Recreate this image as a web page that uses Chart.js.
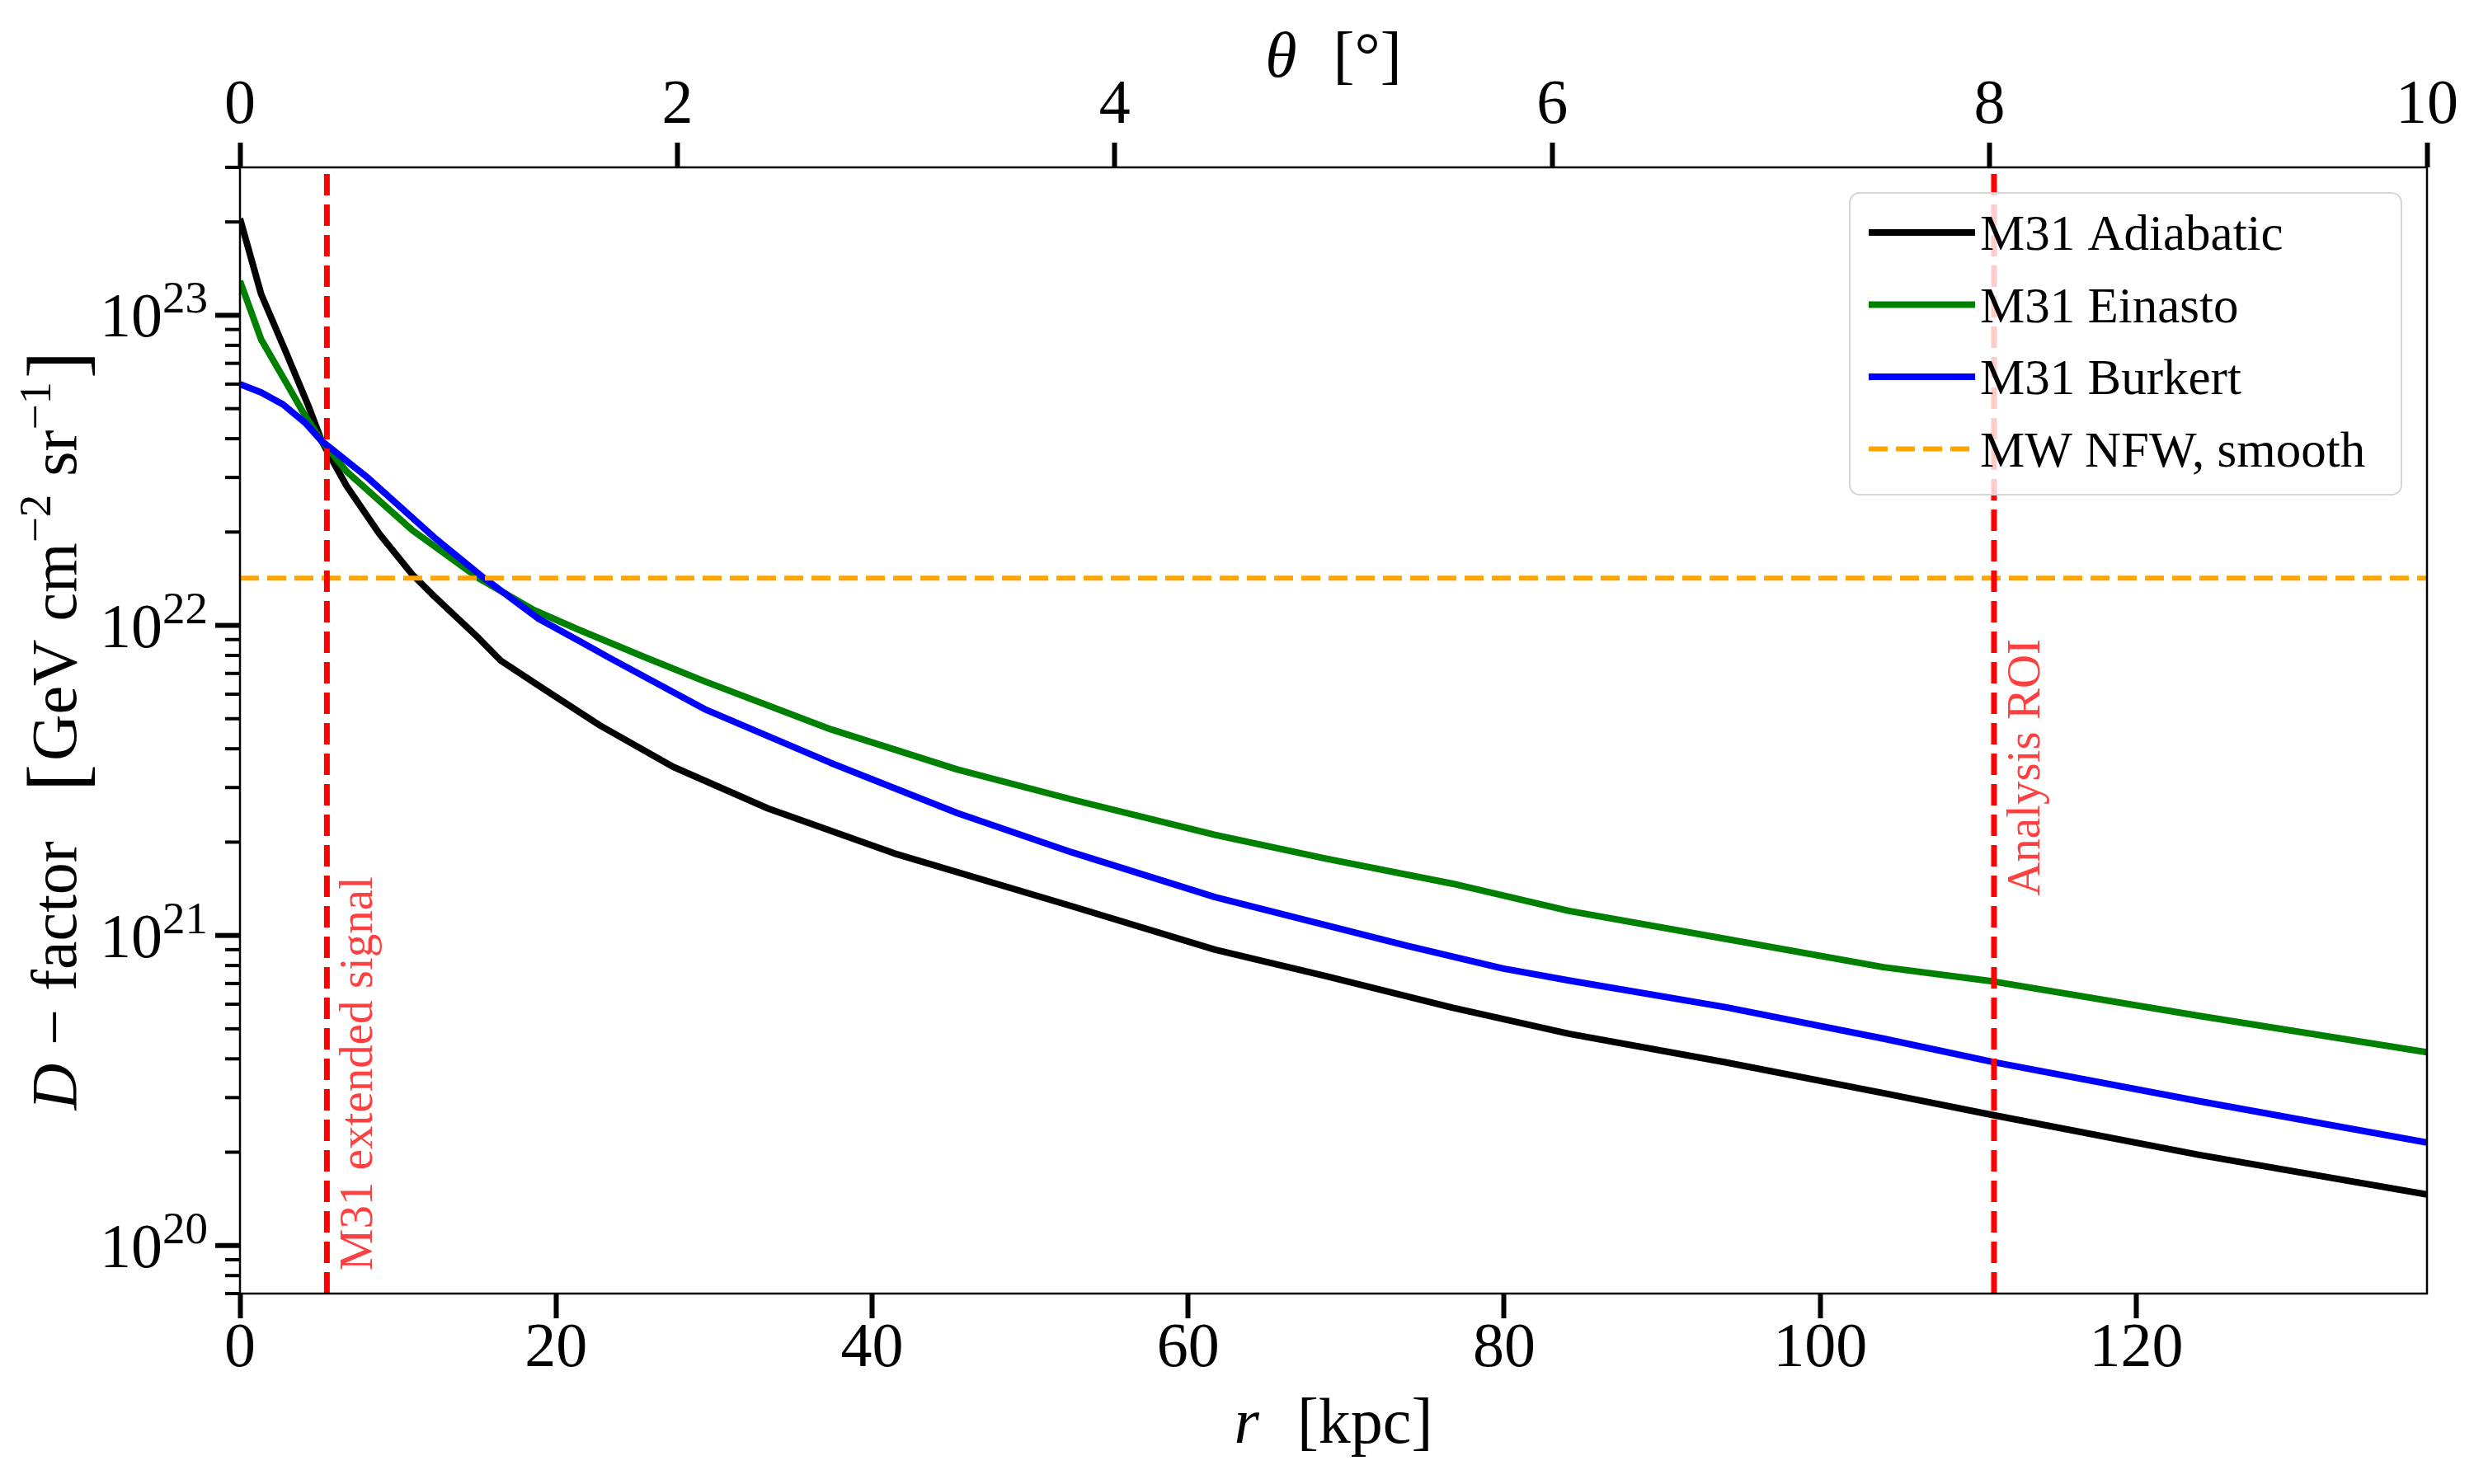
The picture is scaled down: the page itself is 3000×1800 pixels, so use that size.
<!DOCTYPE html>
<html>
<head>
<meta charset="utf-8">
<script src="https://cdn.jsdelivr.net/npm/chart.js@4.4.1/dist/chart.umd.min.js"></script>
<style>
html,body{margin:0;padding:0;background:#ffffff;}
canvas{display:block;}
</style>
</head>
<body>
<canvas id="c" width="3000" height="1800" style="width:3000px;height:1800px"></canvas>
<script>
// ---------------- data ----------------
const seriesLabels = ['M31 Adiabatic', 'M31 Einasto', 'M31 Burkert', 'MW NFW, smooth'];

const rAdiabatic = [0, 1.34, 2.91, 4.29, 5.17, 6.74, 8.83, 10.9, 12.3, 15.1, 16.5, 19.3, 22.8, 27.4, 33.4, 41.4, 52.7, 61.7, 68.7, 76.7, 84.1, 94.0, 104.0, 111.0, 124.0, 138.4];
const dAdiabatic = [2.05e23, 1.17e23, 7.6e22, 5.16e22, 3.93e22, 2.82e22, 1.97e22, 1.46e22, 1.24e22, 9.1e21, 7.7e21, 6.2e21, 4.75e21, 3.5e21, 2.57e21, 1.84e21, 1.24e21, 9.0e20, 7.4e20, 5.85e20, 4.82e20, 3.9e20, 3.1e20, 2.63e20, 1.96e20, 1.46e20];

const rEinasto = [0, 1.34, 2.91, 4.13, 5.17, 6.74, 10.9, 15.1, 18.6, 21.4, 25.6, 29.4, 37.4, 45.4, 52.7, 61.7, 68.7, 76.7, 84.1, 94.0, 104.0, 111.0, 124.0, 138.4];
const dEinasto = [1.29e23, 8.36e22, 6.08e22, 4.74e22, 3.93e22, 3.14e22, 2.03e22, 1.42e22, 1.12e22, 9.7e21, 7.9e21, 6.6e21, 4.62e21, 3.43e21, 2.74e21, 2.11e21, 1.77e21, 1.47e21, 1.2e21, 9.75e20, 7.9e20, 7.1e20, 5.5e20, 4.2e20];

const rBurkert = [0, 1.34, 2.72, 4.13, 5.17, 8.13, 12.3, 15.45, 18.9, 21.4, 23.5, 29.4, 37.4, 45.4, 52.7, 61.7, 68.7, 73.9, 79.9, 84.1, 94.0, 104.0, 111.0, 124.0, 138.4];
const dBurkert = [6.0e22, 5.64e22, 5.16e22, 4.5e22, 3.93e22, 2.98e22, 1.92e22, 1.42e22, 1.05e22, 8.95e21, 7.8e21, 5.37e21, 3.6e21, 2.48e21, 1.85e21, 1.33e21, 1.08e21, 9.25e20, 7.83e20, 7.16e20, 5.87e20, 4.65e20, 3.9e20, 2.92e20, 2.15e20];

const mwNFWLevel = 1.42e22;                 // horizontal reference level
const markerRadii = [5.5, 111.0];           // kpc, vertical red markers
const markerTexts = ['M31 extended signal', 'Analysis ROI'];

const rRange = [0, 138.4];                  // kpc
const thetaRange = [0, 10];                 // degrees
const dRange = [7e19, 3e23];

const rTicks = [0, 20, 40, 60, 80, 100, 120];
const thetaTicks = [0, 2, 4, 6, 8, 10];
const dDecades = [20, 21, 22, 23];

// ---------------- helpers ----------------
const FF = '"Liberation Serif", "Times New Roman", serif';
const toPts = (xs, ys) => xs.map((x, i) => ({x: x, y: ys[i]}));

function richWidth(ctx, parts) {
  let w = 0;
  for (const p of parts) {
    if (p.gap !== undefined) { w += p.gap; continue; }
    ctx.font = p.font; w += ctx.measureText(p.t).width;
  }
  return w;
}
function drawRich(ctx, parts, x0, y0) {
  let x = x0;
  for (const p of parts) {
    if (p.gap !== undefined) { x += p.gap; continue; }
    ctx.font = p.font;
    ctx.fillText(p.t, x, y0 + (p.dy || 0));
    x += ctx.measureText(p.t).width;
  }
}

const decorPlugin = {
  id: 'decor',
  afterDraw(chart) {
    const ctx = chart.ctx;
    const ca = chart.chartArea;
    const ys = chart.scales.y;
    const xs = chart.scales.x;
    ctx.save();

    // frame
    ctx.strokeStyle = '#000';
    ctx.lineWidth = 2.5;
    ctx.strokeRect(ca.left, ca.top, ca.right - ca.left, ca.bottom - ca.top);

    // y ticks (major + minor, log)
    ctx.lineCap = 'butt';
    for (let e = 19; e <= 23; e++) {
      for (let k = 1; k <= 9; k++) {
        const v = k * Math.pow(10, e);
        if (v < dRange[0] * 0.999 || v > dRange[1] * 1.001) continue;
        const py = ys.getPixelForValue(v);
        const major = (k === 1);
        ctx.beginPath();
        ctx.lineWidth = major ? 6 : 4;
        ctx.moveTo(ca.left - (major ? 30 : 18), py);
        ctx.lineTo(ca.left, py);
        ctx.stroke();
      }
    }

    // y tick labels 10^n
    ctx.fillStyle = '#000';
    ctx.textAlign = 'left';
    ctx.textBaseline = 'alphabetic';
    const xRight = ca.left - 39;
    for (const e of dDecades) {
      const py = ys.getPixelForValue(Math.pow(10, e));
      ctx.font = `55px ${FF}`;
      const sw = ctx.measureText(String(e)).width;
      ctx.font = `76px ${FF}`;
      const bw = ctx.measureText('10').width;
      const base = py + 26;
      ctx.fillText('10', xRight - sw - bw, base);
      ctx.font = `55px ${FF}`;
      ctx.fillText(String(e), xRight - sw, base - 29);
    }

    // axis titles
    const F = 78;
    const reg = `${F}px ${FF}`, ita = `italic ${F}px ${FF}`;
    const sup = `${Math.round(F * 0.7)}px ${FF}`, big = `${Math.round(F * 1.28)}px ${FF}`;
    // bottom title
    const xt = [{t: 'r', font: ita}, {gap: 46}, {t: '[kpc]', font: reg}];
    const cx = (ca.left + ca.right) / 2;
    drawRich(ctx, xt, cx - richWidth(ctx, xt) / 2, 1750);
    // top title
    const tt = [{t: 'θ', font: ita}, {gap: 44}, {t: '[°]', font: reg}];
    drawRich(ctx, tt, cx - richWidth(ctx, tt) / 2, 93);
    // y title
    const yt = [
      {t: 'D', font: ita}, {gap: 22}, {t: '−', font: reg}, {gap: 22}, {t: 'factor', font: reg},
      {gap: 60}, {t: '[', font: big, dy: 10}, {gap: 4}, {t: 'GeV', font: reg}, {gap: 22}, {t: 'cm', font: reg},
      {t: '−2', font: sup, dy: -31}, {gap: 22}, {t: 'sr', font: reg}, {t: '−1', font: sup, dy: -31},
      {gap: 4}, {t: ']', font: big, dy: 10}
    ];
    const cy = (ca.top + ca.bottom) / 2;
    ctx.save();
    ctx.translate(92, cy);
    ctx.rotate(-Math.PI / 2);
    drawRich(ctx, yt, -richWidth(ctx, yt) / 2, 0);
    ctx.restore();

    // marker annotations
    ctx.fillStyle = 'rgba(255,0,0,0.75)';
    ctx.font = `57px ${FF}`;
    const textStart = [ys.getPixelForValue(8.3e19), ys.getPixelForValue(1.34e21)];
    markerRadii.forEach((r, i) => {
      const px = xs.getPixelForValue(r) + 55;
      ctx.save();
      ctx.translate(px, textStart[i]);
      ctx.rotate(-Math.PI / 2);
      ctx.textAlign = 'left';
      ctx.textBaseline = 'alphabetic';
      ctx.fillText(markerTexts[i], 0, 0);
      ctx.restore();
    });

    // legend
    const lx = 2243, ly = 234, lw = 669, lh = 366, rad = 12;
    ctx.beginPath();
    ctx.roundRect(lx, ly, lw, lh, rad);
    ctx.fillStyle = 'rgba(255,255,255,0.8)';
    ctx.fill();
    ctx.strokeStyle = '#d6d6d6';
    ctx.lineWidth = 2;
    ctx.stroke();
    const rows = [282, 369.5, 457, 544.5];
    ctx.font = `61px ${FF}`;
    ctx.textAlign = 'left';
    ctx.textBaseline = 'alphabetic';
    for (let i = 0; i < 4; i++) {
      const ds = chart.data.datasets[i];
      ctx.beginPath();
      ctx.strokeStyle = ds.borderColor;
      ctx.lineWidth = ds.borderWidth;
      ctx.setLineDash(ds.borderDash || []);
      ctx.lineCap = 'butt';
      ctx.moveTo(2266, rows[i]);
      ctx.lineTo(2395, rows[i]);
      ctx.stroke();
      ctx.setLineDash([]);
      ctx.fillStyle = '#000';
      ctx.fillText(ds.label, 2401, rows[i] + 21);
    }
    ctx.restore();
  }
};

function lineDs(label, data, color, width, order, dash) {
  return {
    label: label, data: data, borderColor: color, backgroundColor: color,
    borderWidth: width, borderDash: dash || [], order: order,
    pointRadius: 0, pointHoverRadius: 0, fill: false, tension: 0, clip: 0,
    borderJoinStyle: 'round', borderCapStyle: 'butt', xAxisID: 'x', yAxisID: 'y'
  };
}

function build() {
  const tickFont = {family: FF, size: 76, lineHeight: 1};
  const gridX = {display: true, drawOnChartArea: false, drawTicks: true, tickLength: 30, tickWidth: 6, tickColor: '#000'};
  new Chart(document.getElementById('c'), {
    type: 'line',
    data: {
      datasets: [
        lineDs(seriesLabels[0], toPts(rAdiabatic, dAdiabatic), '#000000', 8, 4),
        lineDs(seriesLabels[1], toPts(rEinasto, dEinasto), '#008000', 8, 3),
        lineDs(seriesLabels[2], toPts(rBurkert, dBurkert), '#0000ff', 8, 2),
        lineDs(seriesLabels[3], [{x: rRange[0], y: mwNFWLevel}, {x: rRange[1], y: mwNFWLevel}], '#ffa500', 6, 1, [23, 10]),
        lineDs('marker1', [{x: markerRadii[0], y: dRange[0]}, {x: markerRadii[0], y: dRange[1]}], '#ff0000', 7, 0, [26, 11]),
        lineDs('marker2', [{x: markerRadii[1], y: dRange[0]}, {x: markerRadii[1], y: dRange[1]}], '#ff0000', 7, 0, [26, 11])
      ]
    },
    options: {
      responsive: false,
      animation: false,
      devicePixelRatio: 1,
      layout: {padding: {left: 0, right: 57, top: 0, bottom: 0}},
      plugins: {legend: {display: false}, tooltip: {enabled: false}},
      scales: {
        x: {
          type: 'linear', position: 'bottom', min: rRange[0], max: rRange[1],
          afterBuildTicks: s => { s.ticks = rTicks.map(v => ({value: v})); },
          ticks: {autoSkip: false, maxRotation: 0, minRotation: 0, padding: 0, color: '#000', font: tickFont},
          grid: gridX, border: {display: false},
          afterFit: s => { s.height = 231; }
        },
        x2: {
          type: 'linear', position: 'top', min: thetaRange[0], max: thetaRange[1],
          afterBuildTicks: s => { s.ticks = thetaTicks.map(v => ({value: v})); },
          ticks: {autoSkip: false, maxRotation: 0, minRotation: 0, padding: 6, color: '#000', font: tickFont},
          grid: gridX, border: {display: false},
          afterFit: s => { s.height = 203; }
        },
        y: {
          type: 'logarithmic', position: 'left', min: dRange[0], max: dRange[1],
          ticks: {display: false}, grid: {display: false}, border: {display: false},
          afterFit: s => { s.width = 291; }
        }
      }
    },
    plugins: [decorPlugin]
  });
}

const fontLoads = [
  `76px "Liberation Serif"`, `italic 78px "Liberation Serif"`
].map(f => document.fonts.load(f).catch(() => null));
Promise.all(fontLoads).then(build, build);
</script>
</body>
</html>
